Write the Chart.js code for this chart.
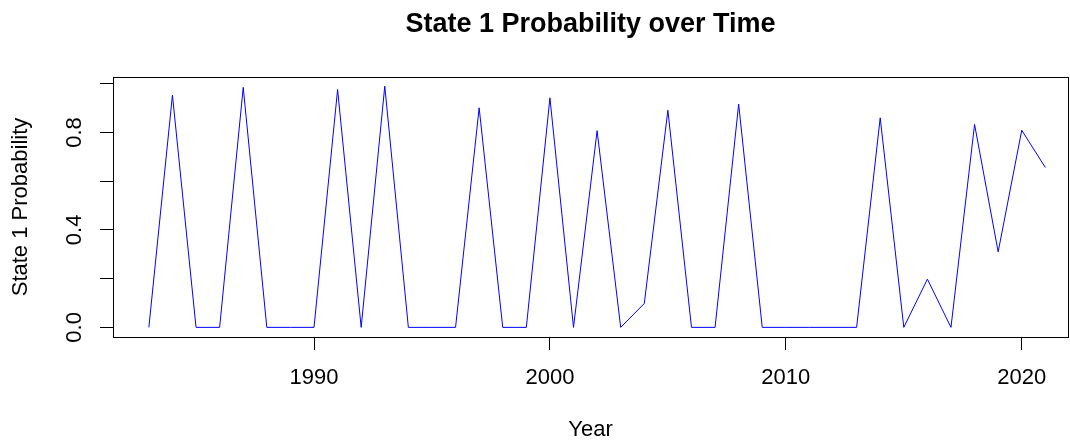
<!DOCTYPE html>
<html>
<head>
<meta charset="utf-8">
<title>State 1 Probability over Time</title>
<script src="https://cdn.jsdelivr.net/npm/chart.js@4.4.1/dist/chart.umd.min.js"></script>
<style>
  html, body { margin: 0; padding: 0; background: #fff; overflow: hidden; }
  #wrap { width: 1070px; height: 441px; }
</style>
</head>
<body>
<div id="wrap"><canvas id="probChart" width="1070" height="441"></canvas></div>
<script>
// data, one value per year
const years = [
    1983, 1984, 1985, 1986, 1987, 1988, 1989, 1990, 1991, 1992,
    1993, 1994, 1995, 1996, 1997, 1998, 1999, 2000, 2001, 2002,
    2003, 2004, 2005, 2006, 2007, 2008, 2009, 2010, 2011, 2012,
    2013, 2014, 2015, 2016, 2017, 2018, 2019, 2020, 2021,
];
const state1Prob = [
    0, 0.953, 0, 0, 0.985, 0, 0, 0, 0.976, 0,
    0.99, 0, 0, 0, 0.901, 0, 0, 0.942, 0, 0.807,
    0, 0.098, 0.891, 0, 0, 0.916, 0, 0, 0, 0,
    0, 0.86, 0, 0.198, 0, 0.833, 0.31, 0.809, 0.656,
];
const xTicks = [1990, 2000, 2010, 2020];
const yTicks = [0, 0.2, 0.4, 0.6, 0.8, 1.0];
const yTickLabels = ["0.0", "", "0.4", "", "0.8", ""];

const fontFamily = "'Liberation Sans', Arial, sans-serif";

// R style box round the plot region
const plotBox = {
    id: "plotBox",
    afterDraw(chart) {
        const a = chart.chartArea;
        const ctx = chart.ctx;
        ctx.save();
        ctx.strokeStyle = "#000";
        ctx.lineWidth = 1;
        ctx.strokeRect(a.left + 0.5, a.top + 0.5, a.right - a.left, a.bottom - a.top);
        ctx.restore();
    },
};

const ctx = document.getElementById("probChart").getContext("2d");
new Chart(ctx, {
    type: "line",
    data: {
        datasets: [
            {
                label: "State 1 Probability",
                data: years.map((y, i) => ({ x: y, y: state1Prob[i] })),
                borderColor: "#0000ff",
                borderWidth: 1,
                pointRadius: 0,
                tension: 0,
                fill: false,
            },
        ],
    },
    options: {
        responsive: false,
        devicePixelRatio: 1,
        animation: false,
        layout: { padding: { left: 0, right: 2, top: 0, bottom: 0 } },
        plugins: {
            legend: { display: false },
            tooltip: { enabled: false },
            title: {
                display: true,
                text: "State 1 Probability over Time",
                fullSize: false,
                color: "#000",
                font: { family: fontFamily, size: 27, weight: "bold" },
                padding: { top: 8, bottom: 36.6 },
            },
        },
        scales: {
            x: {
                type: "linear",
                min: 1981.48,
                max: 2021.96,
                afterBuildTicks: (scale) => {
                    scale.ticks = xTicks.map((v) => ({ value: v }));
                },
                afterFit: (scale) => {
                    scale.height = 104;
                },
                grid: {
                    drawOnChartArea: false,
                    drawTicks: true,
                    tickLength: 13,
                    color: "#000",
                },
                border: { display: true, color: "#000" },
                ticks: {
                    autoSkip: false,
                    maxRotation: 0,
                    padding: 15,
                    color: "#000",
                    font: { family: fontFamily, size: 22 },
                    callback: (v) => String(v),
                },
                title: {
                    display: true,
                    text: "Year",
                    color: "#000",
                    font: { family: fontFamily, size: 22 },
                    padding: { top: 0, bottom: -2 },
                },
            },
            y: {
                type: "linear",
                min: -0.0395,
                max: 1.0275,
                afterBuildTicks: (scale) => {
                    scale.ticks = yTicks.map((v) => ({ value: v }));
                },
                afterFit: (scale) => {
                    scale.width = 113;
                },
                grid: {
                    drawOnChartArea: false,
                    drawTicks: true,
                    tickLength: 13,
                    color: "#000",
                },
                border: { display: true, color: "#000" },
                ticks: {
                    autoSkip: false,
                    minRotation: 90,
                    maxRotation: 90,
                    crossAlign: "center",
                    padding: 10,
                    color: "#000",
                    font: { family: fontFamily, size: 22 },
                    callback: (v, i) => yTickLabels[i],
                },
                title: {
                    display: true,
                    text: "State 1 Probability",
                    color: "#000",
                    font: { family: fontFamily, size: 22 },
                    padding: { top: 8, bottom: 0 },
                },
            },
        },
    },
    plugins: [plotBox],
});
</script>
</body>
</html>
